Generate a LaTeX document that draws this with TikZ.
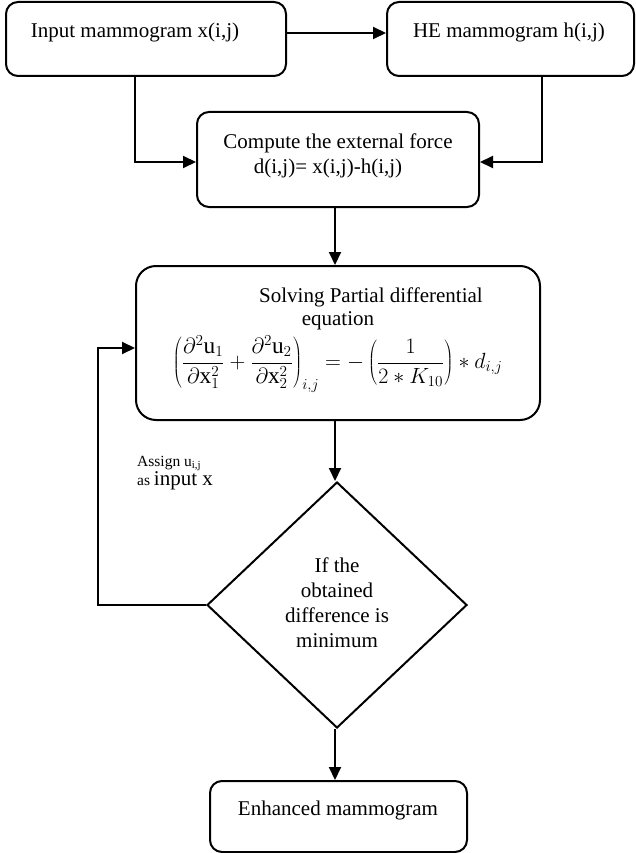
\documentclass[tikz,border=0pt]{standalone}
\usepackage{graphicx}
\usepackage{fontspec}
\setmainfont{Liberation Serif}
\usetikzlibrary{arrows.meta,shapes.geometric}
\tikzset{
  box/.style={draw, line width=2pt, rounded corners=12pt, inner sep=0pt},
  bigbox/.style={draw, line width=2pt, rounded corners=20pt, inner sep=0pt},
  txt/.style={inner sep=0pt, font=\fontsize{21}{25}\selectfont},
  arr/.style={line width=2pt, -{Triangle[length=13pt,width=12pt]}},
  ln/.style={line width=2pt}
}
\begin{document}
\begin{tikzpicture}[x=1pt,y=-1pt]
\useasboundingbox (0,0) rectangle (635,853);
% boxes
\node[box, minimum width=280pt, minimum height=74pt] (b1) at (146,39) {};
\node[box, minimum width=247pt, minimum height=74pt] (b2) at (510.5,39) {};
\node[box, minimum width=282pt, minimum height=95pt] (b3) at (338,159.5) {};
\node[bigbox, minimum width=404pt, minimum height=154pt] (b4) at (338,343) {};
\node[draw, line width=2pt, shape=diamond, inner sep=0pt, minimum width=260pt, minimum height=246pt] (dia) at (337,605) {};
\node[box, minimum width=257pt, minimum height=71pt] (b5) at (338.5,816.5) {};
% texts
\node[txt] (t1) at (135,32) {Input mammogram x(i,j)};
\node[txt] (t2) at (509,32) {HE mammogram h(i,j)};
\node[txt] (t3a) at (338,143) {Compute the external force};
\node[txt] (t3b) at (328,168) {d(i,j)= x(i,j)-h(i,j)};
\node[txt] (t4a) at (371,297) {Solving Partial differential};
\node[txt] (t4b) at (338,321) {equation};
\node[inner sep=0pt] (eq) at (337.5,364) {\scalebox{1.06}{\fontsize{22}{27}\selectfont$\displaystyle\left(\frac{\partial^2\mathrm{u}_1}{\partial\mathrm{x}_1^2}+\frac{\partial^2\mathrm{u}_2}{\partial\mathrm{x}_2^2}\right)_{i,j} = -\left(\frac{1}{2*K_{10}}\right)*d_{i,j}$}};
\node[txt, align=center] (dt) at (337,603) {If the\\obtained\\difference is\\minimum};
\node[txt] (t5) at (338,810) {Enhanced mammogram};
\node[inner sep=0pt, anchor=west, align=left] (lab) at (137,473) {\fontsize{15.5}{24}\selectfont Assign u\textsubscript{i,j}\\\fontsize{15.5}{24}\selectfont as {\fontsize{21}{24}\selectfont input x}};
% connectors
\coordinate (ax) at (335,0);
\coordinate (k1) at (135,162);
\coordinate (k2) at (542,162);
\coordinate (k3) at (98,605);
\coordinate (k4) at (98,348);
\draw[arr] ([yshift=6pt]b1.east) -- ([yshift=6pt]b2.west);
\draw[arr] (b1.south -| k1) -- (k1) -- (b3.west |- k1);
\draw[arr] (b2.south -| k2) -- (k2) -- (b3.east |- k2);
\draw[arr] (b3.south -| ax) -- (b4.north -| ax);
\draw[arr] (b4.south -| ax) -- (dia.north -| ax);
\draw[arr] (dia.west) -- (k3) -- (k4) -- (b4.west |- k4);
\draw[arr] (dia.south -| ax) -- (b5.north -| ax);
\end{tikzpicture}
\end{document}
